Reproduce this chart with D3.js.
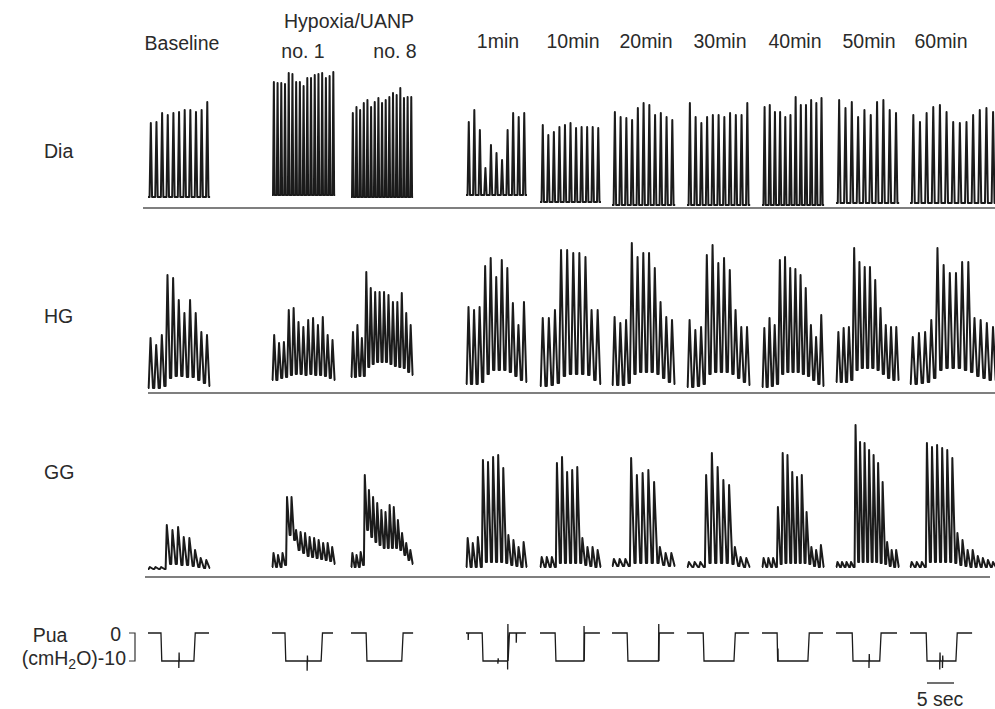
<!DOCTYPE html>
<html lang="en">
<head>
    <meta charset="UTF-8">
    <title>Dia / HG / GG traces</title>
    <script src="https://d3js.org/d3.v7.min.js"></script>
    <style>
        body {
            margin: 0;
            background: #fff;
            font-family: "Liberation Sans", Arial, Helvetica, sans-serif;
        }
        svg {
            display: block;
        }
        text {
            fill: #2a2a2a;
            font-size: 19.5px;
        }
    </style>
</head>
<body>

    <div id="container"></div>

    <script>

        // panel names (column headers) and length of each recorded segment in sec
        const panels = ['Baseline', 'no. 1', 'no. 8', '1min', '10min', '20min', '30min', '40min', '50min', '60min'];
        const panelSec = [11.5, 11.7, 11.5, 11.3, 11.3, 11.7, 11.7, 11.5, 11.7, 16];

        const rows = ['Dia', 'HG', 'GG'];

        // Dia: peak height of every breath (a.u.) and floor level of each panel
        const diaPeaks = [
            [83, 84, 93, 91, 93, 94, 96, 96, 94, 96, 104],
            [124, 123, 123, 122, 133, 132, 124, 124, 120, 128, 128, 131, 132, 133, 128, 130, 134],
            [93, 99, 96, 103, 106, 99, 104, 108, 103, 106, 109, 113, 111, 118, 108, 109, 109],
            [84, 96, 76, 38, 61, 53, 46, 76, 93, 89, 93],
            [81, 71, 74, 79, 81, 83, 78, 79, 79, 79, 78],
            [94, 89, 88, 86, 98, 103, 101, 91, 93, 89, 86],
            [103, 89, 83, 89, 91, 91, 89, 93, 91, 91, 103],
            [99, 101, 94, 94, 89, 91, 109, 101, 101, 106, 103, 108],
            [106, 98, 104, 89, 96, 91, 104, 106, 96, 93],
            [91, 84, 93, 99, 101, 94, 84, 83, 84, 91, 96, 98, 94]
        ];
        const diaFloor = [9, 11, 9, 11, 4, 1, 1, 1, 3, 3];

        // HG: peak and trough of every breath (a.u.)
        const hgPeaks = [
            [54, 47, 57, 117, 114, 92, 79, 92, 79, 60, 57],
            [57, 49, 50, 82, 84, 70, 65, 72, 74, 67, 75, 57, 52],
            [60, 67, 54, 120, 104, 100, 100, 100, 97, 90, 90, 99, 79, 67],
            [85, 82, 85, 126, 134, 115, 132, 124, 89, 67, 90],
            [74, 74, 82, 142, 142, 139, 139, 135, 82, 82],
            [75, 69, 72, 149, 135, 139, 139, 124, 90, 75, 72],
            [72, 62, 65, 137, 147, 129, 134, 122, 82, 65, 65],
            [64, 74, 67, 132, 135, 124, 123, 117, 104, 67, 55, 77],
            [60, 64, 65, 144, 130, 125, 125, 112, 84, 67, 65, 65],
            [55, 59, 60, 72, 144, 127, 119, 119, 130, 130, 74, 72, 69, 65]
        ];
        const hgTroughs = [
            [4, 4, 6, 14, 16, 16, 15, 15, 12, 9, 6],
            [12, 14, 15, 17, 18, 18, 17, 18, 17, 17, 16, 14, 12],
            [15, 16, 16, 25, 28, 30, 30, 30, 28, 26, 25, 24, 20, 17],
            [8, 8, 10, 18, 22, 22, 22, 20, 16, 12, 10],
            [6, 7, 9, 16, 18, 18, 18, 17, 12, 8],
            [7, 7, 9, 18, 20, 20, 20, 18, 14, 10, 8],
            [5, 6, 8, 18, 20, 20, 20, 18, 14, 10, 7],
            [5, 6, 8, 18, 20, 20, 20, 18, 16, 12, 8, 6],
            [10, 10, 12, 22, 24, 24, 24, 22, 18, 14, 12, 12],
            [8, 9, 10, 14, 22, 24, 24, 24, 22, 20, 16, 14, 12, 12]
        ];

        // GG: peak and trough of every breath (a.u.)
        const ggPeaks = [
            [3, 3, 3, 45, 40, 43, 33, 32, 20, 12, 10],
            [17, 15, 17, 73, 73, 40, 38, 37, 33, 32, 30, 27, 27, 23],
            [17, 15, 18, 95, 80, 73, 67, 60, 58, 65, 63, 50, 37, 27, 20],
            [32, 27, 33, 110, 108, 113, 115, 102, 35, 30, 23, 28],
            [13, 13, 13, 107, 113, 98, 100, 103, 32, 23, 23, 20],
            [11, 11, 11, 112, 95, 97, 100, 88, 23, 17, 17],
            [8, 8, 8, 95, 117, 103, 90, 85, 23, 13, 12],
            [12, 12, 12, 63, 117, 115, 98, 93, 95, 58, 23, 20, 25],
            [8, 8, 8, 8, 145, 128, 127, 120, 115, 107, 88, 28, 20, 20],
            [8, 8, 8, 127, 123, 125, 122, 120, 112, 37, 30, 20, 20, 14, 12, 10, 8]
        ];
        const ggTroughs = [
            [1, 1, 1, 6, 6, 5, 5, 4, 3, 2, 2],
            [3, 3, 5, 35, 30, 20, 17, 14, 13, 12, 11, 10, 9, 6],
            [3, 3, 5, 40, 33, 28, 25, 22, 22, 22, 22, 20, 15, 10, 6],
            [3, 3, 3, 8, 8, 8, 8, 7, 5, 4, 3, 3],
            [3, 3, 3, 7, 7, 7, 7, 7, 5, 4, 3, 3],
            [4, 4, 4, 7, 7, 7, 7, 7, 5, 4, 4],
            [3, 3, 3, 7, 7, 7, 7, 6, 4, 3, 3],
            [3, 3, 3, 6, 7, 7, 7, 7, 7, 6, 4, 3, 3],
            [3, 3, 3, 3, 8, 8, 8, 8, 8, 7, 6, 4, 3, 3],
            [3, 3, 3, 8, 8, 8, 8, 8, 7, 5, 4, 3, 3, 3, 3, 3, 3]
        ];

        // Pua (cmH2O): occlusion start / release / trace end (sec) and artifact spikes [t, low, high]
        const puaDrop = [2.4, 2.4, 2.8, 3.0, 2.8, 2.8, 3.0, 2.8, 3.0, 3.0];
        const puaRise = [8.5, 9.1, 9.4, 7.8, 8.0, 8.5, 8.7, 8.5, 8.1, 8.5];
        const puaEnd = [11.3, 11.3, 11.5, 11.1, 11.1, 11.5, 11.5, 11.3, 11.3, 11.5];
        const puaSpikes = [
            [[5.7, -12.5, -7]],
            [[6.5, -13.5, -8]],
            [],
            [[0.4, -2.5, 0], [5.9, -11, -9], [7.7, -13, 3.2], [9.3, -3.5, 0]],
            [[8.1, -10, 2.5]],
            [[8.6, -10, 3.2]],
            [],
            [[2.9, -10, -5.5]],
            [[6.1, -12.5, -7.5]],
            [[5.5, -13, -7], [6.0, -12.5, -8]]
        ];
        const puaTicks = [0, -10];

        // ---- layout ----
        const width = 995, height = 709;
        const panelLeft = [148, 272, 351, 466, 540, 612, 687, 762, 836, 910];
        const rowBase = {Dia: 206, HG: 392, GG: 570};
        const rowLine = {Dia: [143, 995, 208], HG: [148, 995, 393], GG: [145, 990, 577]};
        const rowLabelY = {Dia: 158, HG: 323, GG: 479};
        // breath shape: fraction of the period where the rise starts, the peak, end of fall
        const shape = {
            Dia: [0.28, 0.5, 0.72],
            HG: [0.12, 0.45, 0.88],
            GG: [0.12, 0.33, 0.9]
        };

        const svg = d3.select('#container')
            .append('svg')
            .attr('width', width)
            .attr('height', height);

        svg.append('rect').attr('width', width).attr('height', height).attr('fill', '#fff');

        // time -> px (5 sec = 27 px)
        const xSec = d3.scaleLinear().domain([0, 5]).range([0, 27]);

        const line = d3.line()
            .x(d => d[0])
            .y(d => d[1]);

        // build one breathing trace (time, amplitude) points
        function breaths(peaks, troughs, dur, sh) {
            const n = peaks.length;
            const P = dur / n;
            const pts = [[0, troughs[0]]];
            peaks.forEach((p, i) => {
                const t0 = i * P;
                const prev = i === 0 ? troughs[0] : troughs[i - 1];
                pts.push([t0 + sh[0] * P, prev]);
                pts.push([t0 + sh[1] * P, p]);
                pts.push([t0 + sh[2] * P, troughs[i]]);
            });
            pts.push([dur, troughs[n - 1]]);
            return pts;
        }

        const traceData = {
            Dia: diaPeaks.map((pk, j) => breaths(pk, pk.map(() => diaFloor[j]), panelSec[j], shape.Dia)),
            HG: hgPeaks.map((pk, j) => breaths(pk, hgTroughs[j], panelSec[j], shape.HG)),
            GG: ggPeaks.map((pk, j) => breaths(pk, ggTroughs[j], panelSec[j], shape.GG))
        };

        rows.forEach(r => {
            const y = d3.scaleLinear().domain([0, 130]).range([rowBase[r], rowBase[r] - 130]);
            const g = svg.append('g').attr('class', 'row-' + r);

            // row label
            svg.append('text')
                .attr('x', 44)
                .attr('y', rowLabelY[r])
                .text(r);

            // separator line under the row
            svg.append('line')
                .attr('x1', rowLine[r][0])
                .attr('x2', rowLine[r][1])
                .attr('y1', rowLine[r][2])
                .attr('y2', rowLine[r][2])
                .attr('stroke', '#555')
                .attr('stroke-width', 1.5);

            g.selectAll('path')
                .data(traceData[r])
                .enter()
                .append('path')
                .attr('d', (d, j) => line(d.map(p => [panelLeft[j] + xSec(p[0]), y(p[1])])))
                .attr('fill', 'none')
                .attr('stroke', '#1b1b1b')
                .attr('stroke-width', 2)
                .attr('stroke-linejoin', 'round');
        });

        // ---- Pua traces ----
        const yPua = d3.scaleLinear().domain([-10, 0]).range([661, 633]);

        const puaData = panels.map((p, j) => {
            let pts = [[0, 0], [puaDrop[j], 0], [puaDrop[j] + 0.15, -10], [puaRise[j], -10], [puaRise[j] + 0.25, 0], [puaEnd[j], 0]];
            puaSpikes[j].forEach(s => {
                const lvl = (s[0] > puaDrop[j] && s[0] < puaRise[j] + 0.2) ? -10 : 0;
                pts.push([s[0], lvl], [s[0] + 0.01, s[1]], [s[0] + 0.06, s[2]], [s[0] + 0.1, lvl]);
            });
            pts.sort((a, b) => a[0] - b[0]);
            return pts;
        });

        svg.append('g').selectAll('path')
            .data(puaData)
            .enter()
            .append('path')
            .attr('d', (d, j) => line(d.map(p => [panelLeft[j] + xSec(p[0]), yPua(p[1])])))
            .attr('fill', 'none')
            .attr('stroke', '#1b1b1b')
            .attr('stroke-width', 1.3);

        // Pua label + bracket
        svg.append('text').attr('x', 50).attr('y', 642).attr('text-anchor', 'middle').text('Pua');
        const unit = svg.append('text').attr('x', 126).attr('y', 665).attr('text-anchor', 'end');
        unit.append('tspan').text('(cmH');
        unit.append('tspan').attr('dy', 4).attr('font-size', 14).text('2');
        unit.append('tspan').attr('dy', -4).text('O)' + puaTicks[1]);
        svg.append('text').attr('x', 121).attr('y', 641).attr('text-anchor', 'end').text(puaTicks[0]);

        svg.append('path')
            .attr('d', `M129,${yPua(0)}H135V${yPua(-10)}H129`)
            .attr('fill', 'none')
            .attr('stroke', '#333')
            .attr('stroke-width', 1.2);

        // ---- column headers ----
        const headerX = [182, 303, 395, 498, 573, 646, 720, 795, 869, 941];
        const headerY = [50, 58, 58, 48, 48, 48, 48, 48, 48, 48];
        svg.selectAll('text.header')
            .data(panels)
            .enter()
            .append('text')
            .attr('class', 'header')
            .attr('x', (d, i) => headerX[i])
            .attr('y', (d, i) => headerY[i])
            .attr('text-anchor', 'middle')
            .text(d => d);

        svg.append('text').attr('x', 349).attr('y', 28).attr('text-anchor', 'middle').text('Hypoxia/UANP');

        // ---- 5 sec scale bar ----
        svg.append('line')
            .attr('x1', 927).attr('x2', 927 + xSec(5))
            .attr('y1', 683).attr('y2', 683)
            .attr('stroke', '#222').attr('stroke-width', 1.3);
        svg.append('text').attr('x', 940).attr('y', 706).attr('text-anchor', 'middle').text('5 sec');

    </script>

</body>
</html>
